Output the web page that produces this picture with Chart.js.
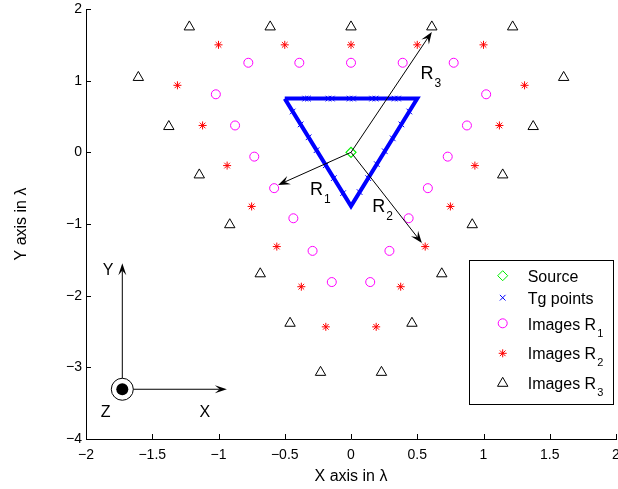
<!DOCTYPE html>
<html lang="en">
<head>
<title>Image sources</title>
<meta charset="UTF-8">
<script src="https://cdn.jsdelivr.net/npm/chart.js@4.4.1/dist/chart.umd.min.js"></script>
<style>
body {margin:0; background:#fff;}
#wrap {width:618px; height:489px;}
</style>
</head>
<body>
<div id="wrap"><canvas id="imgChart" width="618" height="489"></canvas></div>
<script>
// source
var srcX = [0];
var srcY = [0];

// target outline (triangle corners, closed)
var triX = [-0.5, 0.5, 0, -0.5];
var triY = [0.75, 0.75, -0.75, 0.75];

// Tg points along the outline
var tgX = [-0.345, -0.325, -0.17, -0.145, -0.01, 0.015, 0.16, 0.185, 0.33, 0.355,
           0.44, 0.38, 0.315, 0.255, 0.195, 0.13, 0.065,
           -0.06, -0.13, -0.19, -0.26, -0.32, -0.38, -0.44];
var tgY = [0.75, 0.75, 0.75, 0.75, 0.75, 0.75, 0.75, 0.75, 0.75, 0.75,
           0.57, 0.39, 0.195, 0.015, -0.165, -0.36, -0.555,
           -0.57, -0.36, -0.18, 0.03, 0.21, 0.39, 0.57];

// images from reflector R1
var r1X = [-0.775, -0.39, 0, 0.39, 0.775, -1.02, -0.875, -0.73, -0.58, -0.435, -0.29, -0.145,
           1.02, 0.875, 0.73, 0.58, 0.435, 0.29, 0.145];
var r1Y = [1.25, 1.25, 1.25, 1.25, 1.25, 0.81, 0.375, -0.06, -0.5, -0.92, -1.375, -1.81,
           0.81, 0.375, -0.06, -0.5, -0.92, -1.375, -1.81];

// images from reflector R2
var r2X = [-1, -0.5, 0, 0.5, 1, -1.31, -1.12, -0.935, -0.75, -0.56, -0.375, -0.19,
           1.31, 1.12, 0.935, 0.75, 0.56, 0.375, 0.19];
var r2Y = [1.5, 1.5, 1.5, 1.5, 1.5, 0.935, 0.375, -0.185, -0.755, -1.315, -1.875, -2.435,
           0.935, 0.375, -0.185, -0.755, -1.315, -1.875, -2.435];

// images from reflector R3
var r3X = [-1.22, -0.61, 0, 0.61, 1.22, -1.605, -1.375, -1.145, -0.915, -0.685, -0.46, -0.23,
           1.605, 1.375, 1.145, 0.915, 0.685, 0.46, 0.23];
var r3Y = [1.75, 1.75, 1.75, 1.75, 1.75, 1.045, 0.36, -0.315, -1.01, -1.695, -2.385, -3.07,
           1.045, 0.36, -0.315, -1.01, -1.695, -2.385, -3.07];

var xTicks = [-2, -1.5, -1, -0.5, 0, 0.5, 1, 1.5, 2];
var yTicks = [-4, -3, -2, -1, 0, 1, 2];

var legendNames = ['Source', 'Tg points', 'Images R', 'Images R', 'Images R'];
var legendSubs = ['', '', '1', '2', '3'];

// ray arrows from the source, with their R labels
var rayEnds = [[-0.55, -0.455], [0.535, -1.265], [0.61, 1.68]];
var rayNames = ['R', 'R', 'R'];
var raySubs = ['1', '2', '3'];
var rayLabelPos = [[-0.31, -0.6], [0.16, -0.83], [0.525, 1.03]];

var FONT = '"Liberation Sans", Arial, Helvetica, sans-serif';

function pts(xs, ys) {
  return xs.map(function(x, i) { return {x: x, y: ys[i]}; });
}

function fmt(v) {
  return v < 0 ? '\u2212' + String(-v) : String(v);
}

function arrow(ctx, x0, y0, x1, y1, len, half) {
  var a = Math.atan2(y1 - y0, x1 - x0);
  var c = Math.cos(a), s = Math.sin(a);
  ctx.beginPath();
  ctx.moveTo(x0, y0);
  ctx.lineTo(x1 - c * len * 0.6, y1 - s * len * 0.6);
  ctx.stroke();
  ctx.beginPath();
  ctx.moveTo(x1, y1);
  ctx.lineTo(x1 - c * len - s * half, y1 - s * len + c * half);
  ctx.lineTo(x1 - c * len * 0.6, y1 - s * len * 0.6);
  ctx.lineTo(x1 - c * len + s * half, y1 - s * len - c * half);
  ctx.closePath();
  ctx.fill();
}

function subText(ctx, main, sub, x, y, size, subSize, drop) {
  ctx.font = size + 'px ' + FONT;
  ctx.fillText(main, x, y);
  if (sub) {
    var w = ctx.measureText(main).width;
    ctx.font = subSize + 'px ' + FONT;
    ctx.fillText(sub, x + w + 1, y + drop);
  }
}

var overlay = {
  id: 'overlay',
  afterDatasetsDraw: function(chart) {
    var ctx = chart.ctx, xs = chart.scales.x, ys = chart.scales.y;
    var px = function(v) { return xs.getPixelForValue(v); };
    var py = function(v) { return ys.getPixelForValue(v); };
    ctx.save();
    ctx.strokeStyle = '#000';
    ctx.fillStyle = '#000';
    ctx.lineWidth = 1;

    // rays
    for (var i = 0; i < rayEnds.length; i++) {
      arrow(ctx, px(srcX[0]), py(srcY[0]), px(rayEnds[i][0]), py(rayEnds[i][1]), 12, 4.5);
      ctx.textAlign = 'left';
      ctx.textBaseline = 'alphabetic';
      subText(ctx, rayNames[i], raySubs[i], px(rayLabelPos[i][0]), py(rayLabelPos[i][1]), 18, 12, 8);
    }

    // small X/Y/Z frame
    var cx = px(-1.726), cy = py(-3.306);
    ctx.beginPath();
    ctx.arc(cx, cy, 11, 0, Math.PI * 2);
    ctx.stroke();
    ctx.beginPath();
    ctx.arc(cx, cy, 6, 0, Math.PI * 2);
    ctx.fill();
    arrow(ctx, cx, cy - 11, cx, py(-1.548), 12, 4);
    arrow(ctx, cx + 11, cy, px(-0.937), cy, 12, 4);
    ctx.font = '16px ' + FONT;
    ctx.fillText('Y', px(-1.874), py(-1.711));
    ctx.fillText('Z', px(-1.889), py(-3.689));
    ctx.fillText('X', px(-1.144), py(-3.689));
    ctx.restore();
  },
  afterDraw: function(chart) {
    var ctx = chart.ctx, area = chart.chartArea;
    var xs = chart.scales.x, ys = chart.scales.y;
    ctx.save();
    ctx.strokeStyle = '#000';
    ctx.lineWidth = 1;
    // inward tick marks
    ctx.beginPath();
    xTicks.forEach(function(v) {
      var x = Math.round(xs.getPixelForValue(v)) + 0.5;
      ctx.moveTo(x, area.bottom);
      ctx.lineTo(x, area.bottom - 5);
    });
    yTicks.forEach(function(v) {
      var y = Math.round(ys.getPixelForValue(v)) + 0.5;
      ctx.moveTo(area.left, y);
      ctx.lineTo(area.left + 5, y);
    });
    ctx.stroke();

    // legend box
    var left = area.right - 146.5, top = area.top + 251.5;
    ctx.fillStyle = '#fff';
    ctx.fillRect(left, top, 144, 144);
    ctx.strokeRect(left, top, 144, 144);
    var markY = [15.2, 37.2, 62.8, 92.8, 122.8];
    var baseY = [21, 43, 69, 98.5, 128.5];
    var sets = chart.data.datasets.slice(1);
    for (var i = 0; i < legendNames.length; i++) {
      var ds = sets[i];
      ctx.strokeStyle = ds.borderColor;
      ctx.fillStyle = 'rgba(0,0,0,0)';
      ctx.lineWidth = 1;
      Chart.helpers.drawPoint(ctx, {pointStyle: ds.pointStyle, radius: ds.pointRadius, rotation: 0, borderWidth: 1},
        left + 33.2, top + markY[i]);
      ctx.fillStyle = '#000';
      ctx.textAlign = 'left';
      ctx.textBaseline = 'alphabetic';
      subText(ctx, legendNames[i], legendSubs[i], left + 58.2, top + baseY[i], 16, 11, 7);
    }
    ctx.restore();
  }
};

new Chart(document.getElementById('imgChart'), {
  type: 'scatter',
  data: {
    datasets: [
      {
        label: 'outline',
        data: pts(triX, triY),
        showLine: true,
        borderColor: '#0000ff',
        borderWidth: 4,
        borderJoinStyle: 'miter',
        pointRadius: 0,
        fill: false,
        order: 6
      },
      {
        label: 'Source',
        data: pts(srcX, srcY),
        pointStyle: 'rectRot',
        pointRadius: 5,
        borderColor: '#00ee00',
        backgroundColor: 'rgba(0,0,0,0)',
        borderWidth: 1.2,
        order: 0
      },
      {
        label: 'Tg points',
        data: pts(tgX, tgY),
        pointStyle: 'crossRot',
        pointRadius: 4,
        borderColor: '#0000ff',
        borderWidth: 1,
        order: 5
      },
      {
        label: 'Images R1',
        data: pts(r1X, r1Y),
        pointStyle: 'circle',
        pointRadius: 4.5,
        borderColor: '#ff00ff',
        backgroundColor: 'rgba(0,0,0,0)',
        borderWidth: 1,
        order: 1
      },
      {
        label: 'Images R2',
        data: pts(r2X, r2Y),
        pointStyle: 'star',
        pointRadius: 4,
        borderColor: '#ff0000',
        borderWidth: 1,
        order: 2
      },
      {
        label: 'Images R3',
        data: pts(r3X, r3Y),
        pointStyle: 'triangle',
        pointRadius: 6,
        borderColor: '#000000',
        backgroundColor: 'rgba(0,0,0,0)',
        borderWidth: 1,
        order: 3
      }
    ]
  },
  options: {
    responsive: false,
    animation: false,
    events: [],
    layout: {autoPadding: false, padding: {top: 9, right: 2, left: 0, bottom: 0}},
    plugins: {legend: {display: false}, tooltip: {enabled: false}},
    scales: {
      x: {
        type: 'linear',
        min: -2, max: 2,
        afterBuildTicks: function(s) { s.ticks = xTicks.map(function(v) { return {value: v}; }); },
        afterFit: function(s) { s.height = 50; s.paddingLeft = 0; s.paddingRight = 0; },
        grid: {display: false, drawTicks: false},
        border: {display: true, color: '#000', width: 1},
        ticks: {color: '#000', font: {family: FONT, size: 14}, padding: 8, maxRotation: 0, autoSkip: false, callback: fmt},
        title: {display: true, text: 'X axis in \u03bb', color: '#000', font: {family: FONT, size: 16}, padding: {top: 0, bottom: 3}}
      },
      y: {
        type: 'linear',
        min: -4, max: 2,
        afterBuildTicks: function(s) { s.ticks = yTicks.map(function(v) { return {value: v}; }); },
        afterFit: function(s) { s.width = 86; s.paddingTop = 0; s.paddingBottom = 0; },
        grid: {display: false, drawTicks: false},
        border: {display: true, color: '#000', width: 1},
        ticks: {color: '#000', font: {family: FONT, size: 14}, padding: 4, autoSkip: false, callback: fmt},
        title: {display: true, text: 'Y axis in \u03bb', color: '#000', font: {family: FONT, size: 16}, padding: {top: 12, bottom: 0}}
      }
    }
  },
  plugins: [overlay]
});
</script>
</body>
</html>
